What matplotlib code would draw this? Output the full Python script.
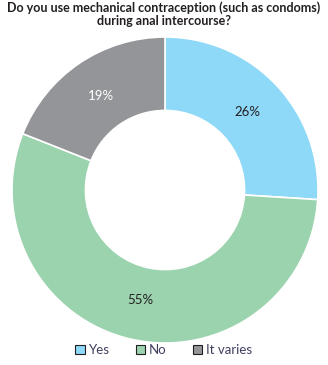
import matplotlib.pyplot as plt

# Data
labels = ['Yes', 'No', 'It varies']
values = [26, 55, 19]
colors = ['#8ed8f8', '#9bd3ae', '#939598']
pct_colors = ['#231f20', '#231f20', '#ffffff']

plt.rcParams['font.family'] = ['Lato', 'DejaVu Sans']

fig = plt.figure(figsize=(3.28, 3.65), dpi=100)
ax = fig.add_axes([12 / 328, 22 / 365, 306 / 328, 306 / 365])

wedges, texts, autotexts = ax.pie(
    values, colors=colors, startangle=90, counterclock=False,
    autopct='%d%%', pctdistance=0.74,
    wedgeprops=dict(width=0.48, edgecolor='white', linewidth=1.2),
    textprops=dict(fontsize=9.5))
for t, c in zip(autotexts, pct_colors):
    t.set_color(c)
ax.set_xlim(-1, 1)
ax.set_ylim(-1, 1)

fig.text(0.5, 1 - 1 / 365, 'Do you use mechanical contraception (such as condoms)\nduring anal intercourse?',
         ha='center', va='top', fontsize=9, fontweight='bold', color='#231f20', linespacing=1.1)

fig.legend(wedges, labels, loc='center', bbox_to_anchor=(0.5, 1 - 350 / 365), ncol=3,
           frameon=False, fontsize=9.5, handlelength=0.7, handleheight=0.7,
           columnspacing=2.0, handletextpad=0.3, labelcolor='#3f3f5f')
for h in fig.legends[0].legend_handles:
    h.set_edgecolor('#231f20')
    h.set_linewidth(0.8)

fig.savefig('out.png', dpi=100)
